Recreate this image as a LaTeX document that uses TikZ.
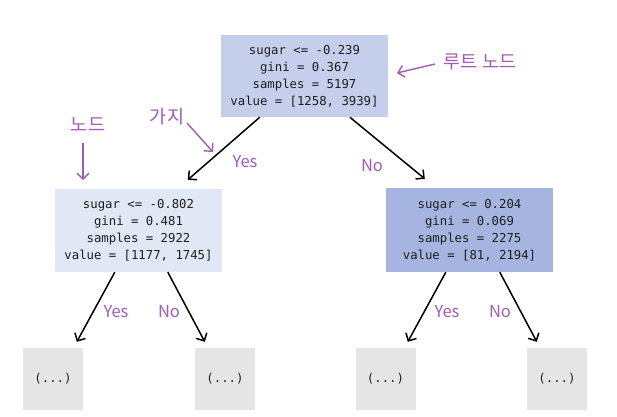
\documentclass[tikz,border=0pt]{standalone}
\usepackage{fontspec}
\setmonofont{DejaVu Sans Mono}
\newfontfamily\kfont{Noto Sans CJK KR}
\usetikzlibrary{arrows.meta}
\definecolor{rootc}{RGB}{197,207,235}
\definecolor{leftc}{RGB}{226,231,245}
\definecolor{rightc}{RGB}{166,181,224}
\definecolor{leafc}{RGB}{229,229,229}
\definecolor{purp}{RGB}{160,92,181}
\definecolor{txt}{RGB}{30,30,30}
\begin{document}
\begin{tikzpicture}[x=1pt,y=-1pt,
  treebox/.style={rectangle, inner sep=0pt, align=center, text=txt,
    font=\ttfamily\fontsize{12.3}{17}\selectfont, minimum width=167pt, minimum height=83pt},
  leafbox/.style={rectangle, fill=leafc, inner sep=0pt, text=txt,
    font=\ttfamily\fontsize{12.3}{17}\selectfont, minimum width=60pt, minimum height=62pt},
  edge/.style={draw=black, line width=1.5pt, -{Straight Barb[length=6pt,width=12pt]}},
  note/.style={draw=purp, line width=1.4pt, -{Straight Barb[length=6pt,width=12pt]}},
  lbl/.style={text=purp, font=\kfont\fontsize{16.5}{18}\selectfont, inner sep=0pt},
  klbl/.style={text=purp, font=\kfont\fontsize{18.5}{20}\selectfont, inner sep=0pt}]
\useasboundingbox[fill=white] (0,0) rectangle (617,416);

\node[treebox, fill=rootc, minimum height=82pt] (root) at (304.5,76)
  {sugar <= -0.239\\gini = 0.367\\samples = 5197\\value = [1258, 3939]};
\node[treebox, fill=leftc] (left) at (138.5,230.5)
  {sugar <= -0.802\\gini = 0.481\\samples = 2922\\value = [1177, 1745]};
\node[treebox, fill=rightc, minimum height=84pt] (right) at (469.5,230)
  {sugar <= 0.204\\gini = 0.069\\samples = 2275\\value = [81, 2194]};

\node[leafbox] (l1) at (53,379) {(...)};
\node[leafbox] (l2) at (225,379) {(...)};
\node[leafbox] (l3) at (385.5,379) {(...)};
\node[leafbox] (l4) at (557,379) {(...)};

\draw[edge] ([xshift=39pt]root.south west) -- ([xshift=133pt,yshift=9pt]left.north west);
\draw[edge] ([xshift=129pt]root.south west) -- ([xshift=39pt,yshift=9pt]right.north west);
\draw[edge] ([xshift=60pt]left.south west) -- ([xshift=54pt,yshift=6pt]l1.north west);
\draw[edge] ([xshift=113pt]left.south west) -- ([xshift=10pt,yshift=6pt]l2.north west);
\draw[edge] ([xshift=60pt]right.south west) -- ([xshift=52.5pt,yshift=6pt]l3.north west);
\draw[edge] ([xshift=114pt]right.south west) -- ([xshift=10pt,yshift=6pt]l4.north west);

\node[lbl] (y0) at (245,162) {Yes};
\node[lbl] (n0) at (372,166) {No};
\node[lbl] (y1) at (116,312) {Yes};
\node[lbl] (n1) at (169,312) {No};
\node[lbl] (y2) at (447,312) {Yes};
\node[lbl] (n2) at (500,312) {No};

\node[klbl] (kaji) at (167,117) {가지};
\node[klbl] (nodeL) at (88,125) {노드};
\node[klbl] (rootL) at (480,62) {루트 노드};

\coordinate (ka1) at (187,123);
\coordinate (ka2) at (213,152);
\coordinate (no1) at (83,143);
\coordinate (no2) at (83,180);
\coordinate (ro1) at (435,64);
\coordinate (ro2) at (397,73);
\draw[note] (ka1) -- (ka2);
\draw[note] (no1) -- (no2);
\draw[note] (ro1) -- (ro2);
\end{tikzpicture}
\end{document}
